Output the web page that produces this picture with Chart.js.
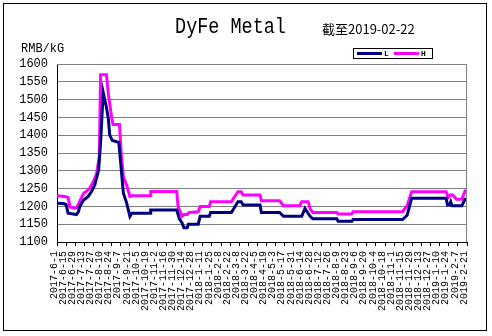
<!DOCTYPE html>
<html><head><meta charset="utf-8">
<script src="https://cdn.jsdelivr.net/npm/chart.js@4/dist/chart.umd.min.js"></script>
<style>html,body{margin:0;padding:0;background:#fff}canvas{display:block}</style>
</head><body>
<canvas id="c" width="492" height="336"></canvas>
<script>
const chartTitle = 'DyFe Metal';
const asOfText = '截至2019-02-22';
const unitText = 'RMB/kG';
const seriesNames = ['L', 'H'];
const tickLabels = ['2017-6-1','2017-6-15','2017-6-29','2017-7-13','2017-7-27','2017-8-10','2017-8-24','2017-9-7','2017-9-21','2017-10-5','2017-10-19','2017-11-2','2017-11-16','2017-11-30','2017-12-14','2017-12-28','2018-1-11','2018-1-25','2018-2-8','2018-2-22','2018-3-8','2018-3-22','2018-4-5','2018-4-19','2018-5-3','2018-5-17','2018-5-31','2018-6-14','2018-6-28','2018-7-12','2018-7-26','2018-8-9','2018-8-23','2018-9-6','2018-9-20','2018-10-4','2018-10-18','2018-11-1','2018-11-15','2018-11-29','2018-12-13','2018-12-27','2019-1-10','2019-1-24','2019-2-7','2019-2-21'];
const tickStepDays = 14;
// day offsets from 2017-6-1 and prices (RMB/kG)
const lowDays = [0,10,14,17,27,30,33,35,41,48,53,58,64,67,71,76,79,81,85,95,97,102,107,112,115,143,144,184,188,192,195,200,202,217,220,234,236,268,272,278,283,286,312,314,342,348,376,381,386,389,393,430,432,453,455,531,538,545,598,600,603,605,607,622,627,630];
const lowPrice = [1209,1208,1205,1181,1178,1177,1185,1200,1218,1228,1242,1260,1302,1380,1520,1478,1445,1400,1385,1380,1340,1237,1210,1172,1181,1181,1190,1190,1165,1154,1140,1140,1150,1150,1172,1172,1183,1183,1195,1213,1213,1204,1204,1183,1183,1172,1172,1194,1180,1172,1165,1165,1158,1158,1163,1163,1175,1223,1223,1204,1204,1213,1202,1202,1220,1220];
const highDays = [0,12,17,20,30,35,41,45,50,56,61,65,67,76,79,84,86,96,99,102,107,112,115,143,144,184,186,192,195,200,203,217,220,234,236,268,272,278,283,286,312,314,342,348,373,376,386,389,393,430,432,453,455,531,538,545,598,601,604,608,614,622,627,630];
const highPrice = [1230,1228,1225,1198,1195,1215,1237,1242,1250,1270,1293,1340,1570,1570,1515,1450,1430,1430,1340,1283,1260,1228,1230,1230,1242,1242,1200,1172,1177,1177,1183,1185,1200,1200,1213,1213,1225,1241,1241,1232,1232,1216,1216,1202,1202,1213,1213,1193,1183,1183,1179,1179,1185,1185,1202,1241,1241,1225,1232,1232,1220,1220,1243,1243];
const yMin = 1100, yMax = 1600, yStep = 50;

const toPoints = (xs, ys) => xs.map((x, i) => ({x: x, y: ys[i]}));

const decor = {
  id: 'decor',
  beforeDraw(chart) {
    const ctx = chart.ctx;
    ctx.save();
    ctx.fillStyle = '#fff';
    ctx.fillRect(0, 0, chart.width, chart.height);
    ctx.restore();
  },
  afterDraw(chart) {
    const ctx = chart.ctx;
    const a = chart.chartArea;
    ctx.save();
    ctx.strokeStyle = '#808080';
    ctx.lineWidth = 1;
    ctx.beginPath();
    ctx.moveTo(a.left, a.top + 0.5);
    ctx.lineTo(a.right - 0.5, a.top + 0.5);
    ctx.lineTo(a.right - 0.5, a.bottom);
    ctx.stroke();
    ctx.strokeStyle = '#000';
    ctx.strokeRect(3.5, 3.5, 483, 327);
    ctx.fillStyle = '#000';
    ctx.save();
    ctx.font = '22px "Liberation Mono"';
    ctx.textAlign = 'center';
    ctx.textBaseline = 'alphabetic';
    ctx.translate(230.5, 33);
    ctx.scale(0.84, 1);
    ctx.fillText(chartTitle, 0, 0);
    ctx.restore();
    ctx.font = '13px "Noto Sans CJK SC"';
    ctx.textAlign = 'left';
    ctx.textBaseline = 'alphabetic';
    ctx.fillText(asOfText, 322, 34);
    ctx.font = '12px "Liberation Mono"';
    ctx.fillText(unitText, 21, 52);
    ctx.strokeStyle = '#000';
    ctx.strokeRect(353.5, 48.5, 79, 10);
    const ds = chart.data.datasets;
    const sx = [357, 394];
    ctx.font = 'bold 8px "Liberation Mono"';
    ctx.textBaseline = 'middle';
    ds.forEach((d, i) => {
      ctx.strokeStyle = d.borderColor;
      ctx.lineWidth = 3;
      ctx.beginPath();
      ctx.moveTo(sx[i], 53.5);
      ctx.lineTo(sx[i] + 25, 53.5);
      ctx.stroke();
      ctx.fillStyle = '#000';
      ctx.fillText(d.label, sx[i] + 27, 54);
    });
    ctx.restore();
  }
};

new Chart(document.getElementById('c'), {
  type: 'line',
  data: {
    datasets: [
      {label: seriesNames[0], data: toPoints(lowDays, lowPrice), borderColor: '#000080', borderWidth: 3, pointRadius: 0, tension: 0, fill: false},
      {label: seriesNames[1], data: toPoints(highDays, highPrice), borderColor: '#FF00FF', borderWidth: 3, pointRadius: 0, tension: 0, fill: false}
    ]
  },
  options: {
    responsive: false,
    animation: false,
    devicePixelRatio: 1,
    layout: {padding: {top: 64, right: 25, left: 0, bottom: 0}},
    plugins: {legend: {display: false}, title: {display: false}, tooltip: {enabled: false}},
    scales: {
      x: {
        type: 'linear',
        min: 0,
        max: tickStepDays * (tickLabels.length - 1),
        afterFit: s => { s.height = 94; },
        afterBuildTicks: s => { s.ticks = tickLabels.map((_, i) => ({value: i * tickStepDays})); },
        grid: {drawOnChartArea: false, drawTicks: true, tickLength: 4, color: '#000'},
        border: {color: '#000'},
        ticks: {
          autoSkip: false, maxRotation: 90, minRotation: 90, padding: 5, labelOffset: -3,
          color: '#000', font: {family: 'Liberation Mono', size: 10},
          callback: (v, i) => tickLabels[i]
        }
      },
      y: {
        min: yMin, max: yMax,
        afterFit: s => { s.width = 57; },
        grid: {color: '#808080', drawTicks: false},
        border: {color: '#000'},
        ticks: {stepSize: yStep, padding: 9, color: '#000', font: {family: 'Liberation Mono', size: 12}, callback: v => String(v)}
      }
    }
  },
  plugins: [decor]
});
</script>
</body></html>
